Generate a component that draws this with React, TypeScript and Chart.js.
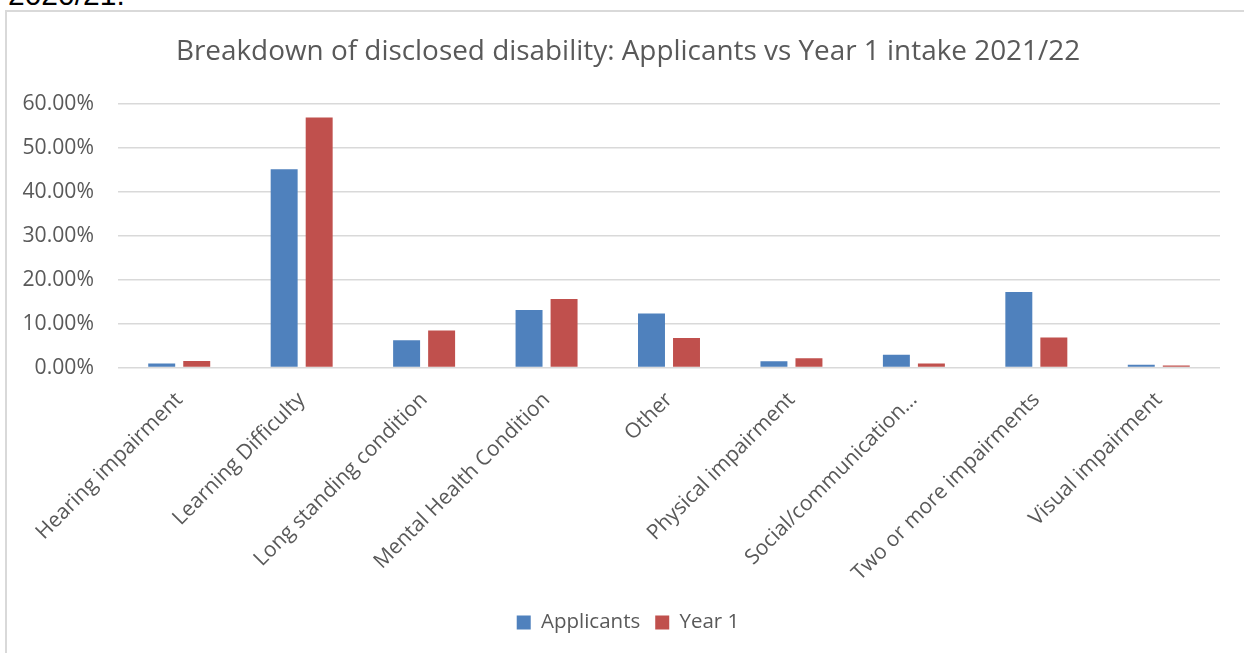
import React, { useEffect, useRef } from "react";
import { Chart, registerables } from "chart.js";

Chart.register(...registerables);

const categories = [
  "Hearing impairment",
  "Learning Difficulty",
  "Long standing condition",
  "Mental Health Condition",
  "Other",
  "Physical impairment",
  "Social/communication…",
  "Two or more impairments",
  "Visual impairment",
];
const applicants = [0.9, 45.1, 6.2, 13.1, 12.3, 1.4, 2.9, 17.2, 0.6];
const year1 = [1.5, 56.9, 8.4, 15.6, 6.7, 2.1, 0.9, 6.8, 0.45];
const seriesNames = ["Applicants", "Year 1"];
const titleText = "Breakdown of disclosed disability: Applicants vs Year 1 intake 2021/22";
const yMax = 60;
const yStep = 10;

const FONT = "'Open Sans', 'Noto Sans', sans-serif";
const TEXT = "#595959";
const CANVAS_W = 1256;

export default function App() {
  const ref = useRef<HTMLCanvasElement | null>(null);
  useEffect(() => {
    if (!ref.current) return;
    const chart = new Chart(ref.current, {
      type: "bar",
      data: {
        labels: categories,
        datasets: [
          {
            label: seriesNames[0],
            data: applicants,
            backgroundColor: "#4F81BD",
            categoryPercentage: 0.572,
            barPercentage: 0.77,
          },
          {
            label: seriesNames[1],
            data: year1,
            backgroundColor: "#C0504D",
            categoryPercentage: 0.572,
            barPercentage: 0.77,
          },
        ],
      },
      options: {
        animation: false,
        responsive: false,
        maintainAspectRatio: false,
        layout: { padding: { left: 0, right: 0, top: 0, bottom: 10.25 } },
        plugins: {
          title: {
            display: true,
            text: titleText,
            color: TEXT,
            font: { family: FONT, size: 27.9, weight: "normal" },
            padding: { top: 35.3, bottom: 35 },
          },
          legend: {
            position: "bottom",
            labels: {
              color: TEXT,
              font: { family: FONT, size: 20.5 },
              boxWidth: 14,
              boxHeight: 14,
              padding: 15,
            },
          },
          tooltip: { enabled: false },
        },
        scales: {
          x: {
            grid: { display: false },
            border: { display: false },
            ticks: {
              color: TEXT,
              font: { family: FONT, size: 21 },
              maxRotation: 45,
              minRotation: 45,
              padding: 12,
              autoSkip: false,
            },
            afterFit: (s: any) => {
              s.height = 229.75;
            },
          },
          y: {
            min: 0,
            max: yMax,
            grid: { color: "#d9d9d9", lineWidth: 1.5, drawTicks: false },
            border: { display: false },
            ticks: {
              stepSize: yStep,
              color: TEXT,
              font: { family: FONT, size: 21.2 },
              padding: 24,
              callback: (v: any) => Number(v).toFixed(2) + "%",
            },
            afterFit: (s: any) => {
              s.width = 118;
            },
          },
          spacer: {
            type: "linear",
            position: "right",
            display: true,
            grid: { display: false, drawTicks: false },
            border: { display: false },
            ticks: { display: false },
            afterFit: (s: any) => {
              s.width = 36;
            },
          },
        },
      },
    });
    return () => chart.destroy();
  }, []);

  return (
    <div style={{ position: "fixed", left: 0, top: 0, width: 1244, height: 653, overflow: "hidden", background: "#fff" }}>
      <div
        style={{
          position: "absolute",
          left: 8,
          top: -20,
          fontFamily: "'Liberation Sans', Arial, sans-serif",
          fontSize: 30,
          lineHeight: "30px",
          color: "#000",
        }}
      >
        2020/21.
      </div>
      <div
        style={{
          position: "absolute",
          left: 5,
          top: 10,
          width: 1300,
          height: 700,
          border: "2px solid #d9d9d9",
          boxSizing: "border-box",
        }}
      />
      <canvas
        ref={ref}
        width={CANVAS_W}
        height={653}
        style={{ position: "absolute", left: 0, top: 0, width: CANVAS_W, height: 653 }}
      />
    </div>
  );
}
